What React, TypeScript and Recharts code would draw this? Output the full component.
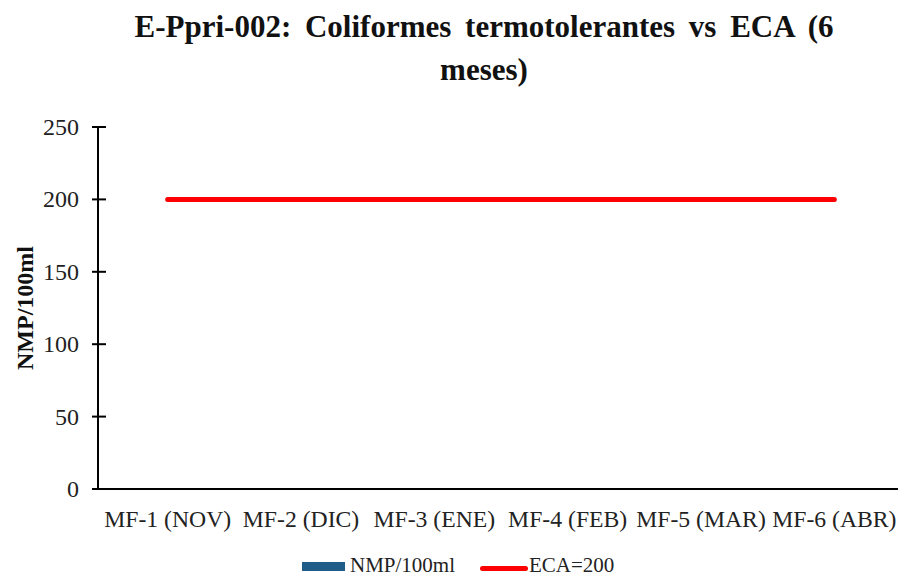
import { ComposedChart, Bar, Line, XAxis, YAxis } from "recharts";

const categories = [
  "MF-1 (NOV)",
  "MF-2 (DIC)",
  "MF-3 (ENE)",
  "MF-4 (FEB)",
  "MF-5 (MAR)",
  "MF-6 (ABR)",
];
const nmpValues = [0, 0, 0, 0, 0, 0];
const ecaValues = [200, 200, 200, 200, 200, 200];
const yTicks = [0, 50, 100, 150, 200, 250];

const barName = "NMP/100ml";
const lineName = "ECA=200";
const barColor = "#1f5c87";
const lineColor = "#ff0000";

const data = categories.map((name, i) => ({
  name,
  nmp: nmpValues[i],
  eca: ecaValues[i],
}));

const FONT = "'Liberation Serif', 'Times New Roman', serif";

function YTick(props: any) {
  const { x, y, payload } = props;
  return (
    <g>
      <line x1={x} x2={x + 14} y1={y} y2={y} stroke="#000" strokeWidth={2} />
      <text
        x={x - 13}
        y={y + 8}
        textAnchor="end"
        fontFamily={FONT}
        fontSize={24}
        fill="#222"
      >
        {payload.value}
      </text>
    </g>
  );
}

function XTick(props: any) {
  const { x, payload } = props;
  return (
    <text
      x={x}
      y={527}
      textAnchor="middle"
      fontFamily={FONT}
      fontSize={23.7}
      fill="#222"
    >
      {payload.value}
    </text>
  );
}

export default function App() {
  return (
    <div
      style={{
        position: "absolute",
        left: 0,
        top: 0,
        width: 898,
        height: 579,
        background: "#fff",
        fontFamily: FONT,
      }}
    >
      <div
        style={{
          position: "absolute",
          left: 84,
          top: 5,
          width: 800,
          textAlign: "center",
          fontSize: 31,
          lineHeight: "43px",
          fontWeight: "bold",
          color: "#111",
          wordSpacing: 6,
        }}
      >
        E-Ppri-002: Coliformes termotolerantes vs ECA (6
        <br />
        meses)
      </div>
      <ComposedChart
        width={898}
        height={579}
        data={data}
        margin={{ top: 127, right: -3, bottom: 40, left: 0 }}
      >
        <XAxis
          dataKey="name"
          height={50}
          interval={0}
          tickLine={false}
          axisLine={{ stroke: "#000", strokeWidth: 2 }}
          tick={<XTick />}
          padding={{ left: 3, right: 0 }}
        />
        <YAxis
          width={98}
          domain={[0, 250]}
          ticks={yTicks}
          tickLine={false}
          tickSize={6}
          tickMargin={0}
          axisLine={{ stroke: "#000", strokeWidth: 2 }}
          tick={<YTick />}
          label={() => (
            <text
              x={33}
              y={308}
              transform="rotate(-90 33 308)"
              textAnchor="middle"
              fontFamily={FONT}
              fontSize={24}
              fontWeight="bold"
              fill="#111"
            >
              {barName}
            </text>
          )}
        />
        <Bar
          dataKey="nmp"
          name={barName}
          fill={barColor}
          isAnimationActive={false}
        />
        <Line
          dataKey="eca"
          name={lineName}
          type="linear"
          stroke={lineColor}
          strokeWidth={5}
          strokeLinecap="round"
          dot={false}
          activeDot={false}
          isAnimationActive={false}
        />
      </ComposedChart>
      <div
        style={{
          position: "absolute",
          left: 302,
          top: 562,
          width: 43,
          height: 9,
          background: barColor,
        }}
      />
      <div
        style={{
          position: "absolute",
          left: 350,
          top: 555,
          fontSize: 21,
          lineHeight: "21px",
          color: "#222",
          whiteSpace: "nowrap",
        }}
      >
        {barName}
      </div>
      <div
        style={{
          position: "absolute",
          left: 480,
          top: 566,
          width: 48,
          height: 5,
          borderRadius: 3,
          background: lineColor,
        }}
      />
      <div
        style={{
          position: "absolute",
          left: 529,
          top: 555,
          fontSize: 21,
          lineHeight: "21px",
          color: "#222",
          whiteSpace: "nowrap",
        }}
      >
        {lineName}
      </div>
    </div>
  );
}
